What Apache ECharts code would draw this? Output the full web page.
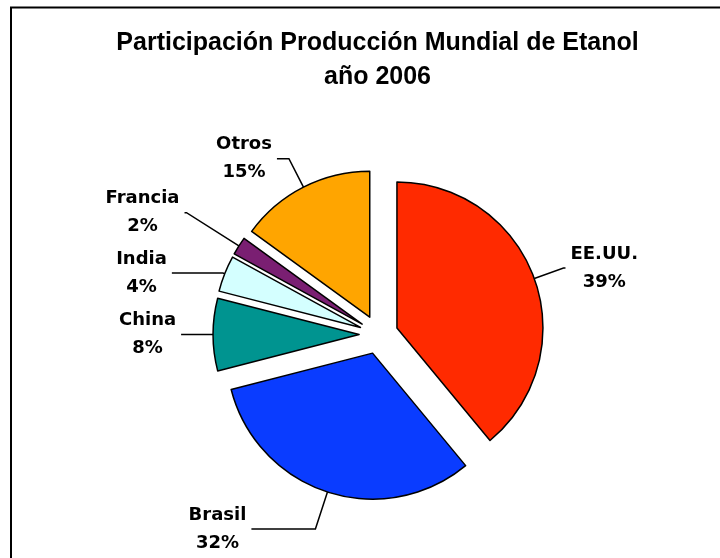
<!DOCTYPE html>
<html>
<head>
<meta charset="utf-8">
<script src="https://cdn.jsdelivr.net/npm/echarts@6/dist/echarts.min.js"></script>
<style>
  html, body { margin: 0; padding: 0; background: #fff; }
  #chart { width: 720px; height: 558px; }
</style>
</head>
<body>
<div id="chart"></div>
<script>
// ethanol production share, 2006
const countries = ['EE.UU.', 'Brasil', 'China', 'India', 'Francia', 'Otros'];
const shares = [39, 32, 8, 4, 2, 15];

// slice colours and leader line lengths (style only)
const sliceColors = ['#ff2a00', '#0a3cff', '#009490', '#d4ffff', '#7a1f72', '#ffa500'];
const leadLen = [31, 39, 12, 2, 62, 32];
const leadLen2 = [2, 64, 20, 51, 2, 12];

const chart = echarts.init(document.getElementById('chart'));

const pieData = countries.map(function (name, i) {
  return {
    name: name,
    value: shares[i],
    selected: true,
    itemStyle: { color: sliceColors[i] },
    labelLine: { length: leadLen[i], length2: leadLen2[i] }
  };
});

const labelFont = {
  fontFamily: 'DejaVu Sans',
  fontWeight: 'bold',
  fontSize: 18,
  lineHeight: 28,
  color: '#000',
  align: 'center'
};

const option = {
  backgroundColor: '#fff',
  animation: false,
  title: {
    text: 'Participación Producción Mundial de Etanol\naño 2006',
    left: 377.5,
    top: 26,
    padding: 0,
    textAlign: 'center',
    textStyle: {
      fontFamily: 'Liberation Sans',
      fontWeight: 'bold',
      fontSize: 25,
      lineHeight: 34,
      color: '#000'
    }
  },
  graphic: [
    {
      type: 'rect',
      silent: true,
      shape: { x: 11, y: 7.5, width: 740, height: 600 },
      style: { fill: 'none', stroke: '#000', lineWidth: 2 }
    }
  ],
  series: [
    {
      type: 'pie',
      center: [378.6, 334.6],
      radius: 146,
      startAngle: 90,
      clockwise: true,
      selectedMode: 'multiple',
      selectedOffset: 19.5,
      avoidLabelOverlap: false,
      percentPrecision: 0,
      emphasis: { disabled: true },
      itemStyle: { borderColor: '#000', borderWidth: 1.5 },
      label: {
        show: true,
        position: 'outside',
        alignTo: 'none',
        distanceToLabelLine: 5,
        formatter: '{t|{b}}\n{t|{d}%}',
        fontFamily: 'DejaVu Sans',
        fontWeight: 'bold',
        fontSize: 18,
        color: '#000',
        rich: { t: labelFont }
      },
      labelLine: {
        show: true,
        lineStyle: { color: '#000', width: 1.5 }
      },
      data: pieData
    }
  ]
};

chart.setOption(option);
</script>
</body>
</html>
